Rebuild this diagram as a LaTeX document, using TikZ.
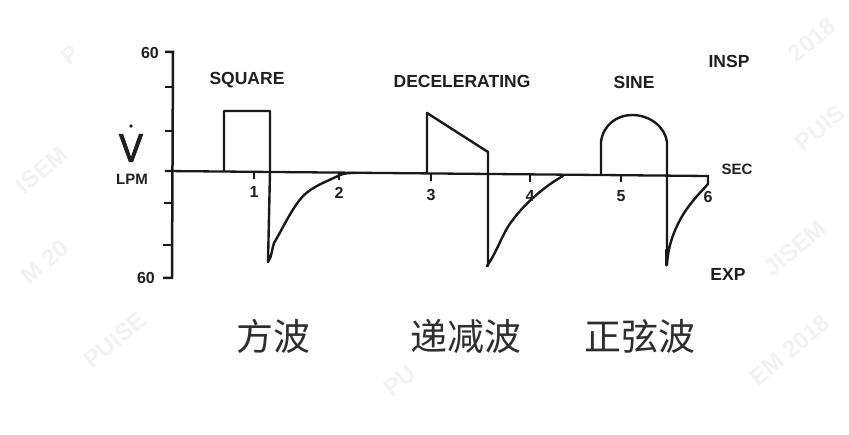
\documentclass[tikz,border=0pt]{standalone}
\usepackage{fontspec}
\setmainfont{Liberation Sans}
\newfontfamily\cjk{Noto Sans CJK SC}
\usetikzlibrary{calc}
\tikzset{
  wave/.style={line width=2.4pt,black!90,line join=round,line cap=round},
  axisln/.style={line width=2.5pt,black!90,line cap=butt},
  lab/.style={font=\fontsize{17.5}{18}\selectfont\bfseries,inner sep=0pt,text=black!88},
  numlab/.style={font=\fontsize{16}{18}\selectfont\bfseries,inner sep=0pt,text=black!88},
  smalllab/.style={font=\fontsize{15}{16}\selectfont\bfseries,inner sep=0pt,text=black!88},
  cn/.style={font=\fontsize{37}{39}\cjk,inner sep=0pt,text=black!82},
  wm/.style={font=\fontsize{24}{26}\selectfont\bfseries,inner sep=0pt,text=black!5,rotate=40}
}
\begin{document}
\begin{tikzpicture}[x=1pt,y=-1pt]
\useasboundingbox (0,0) rectangle (849,435);
% watermarks
\node[wm] (w1) at (70,55) {P};
\node[wm] (w2) at (42,170) {ISEM};
\node[wm] (w3) at (45,262) {M 20};
\node[wm] (w4) at (115,340) {PUISE};
\node[wm] (w5) at (400,381) {PU};
\node[wm] (w6) at (812,40) {2018};
\node[wm] (w7) at (820,128) {PUIS};
\node[wm] (w8) at (795,248) {JISEM};
\node[wm] (w9) at (790,350) {EM 2018};
% axes
\coordinate (top) at (173,52);
\coordinate (bot) at (172,278);
\draw[axisln] (165,52) -- (top) -- (bot) -- (163,278);
\foreach \yy/\xa in {87/165,131/165,203/164,245/163}
  \draw[axisln,line width=2pt] (\xa,\yy) -- (173,\yy);
\coordinate (o) at (165,171);
\coordinate (e) at (708,176);
\draw[axisln,line width=2.3pt] (o) -- (e) -- (708,184);
\foreach \xx/\yy in {254/172,339/173,431/174,530/175,621/175}
  \draw[axisln,line width=2pt] (\xx,\yy) -- (\xx,\yy+7);
% square
\draw[wave] (224,171) -- (224,111) -- (270,111) -- (270,172) -- (268,262)
  .. controls (272,257) and (272,248) .. (274,243)
  .. controls (283,228) and (292,208) .. (303,196)
  .. controls (313,186) and (328,181) .. (340,175)
  .. controls (345,173) and (349,173) .. (356,173);
% decelerating
\draw[wave] (427,173) -- (427,113) -- (488,152) -- (488,266) -- (487,266)
  .. controls (497,252) and (503,232) .. (512,221)
  .. controls (525,203) and (545,186) .. (563,176);
% sine
\draw[wave] (601,175) -- (601,142)
  .. controls (603,125) and (617,115) .. (632,115)
  .. controls (650,115) and (665,127) .. (667,142)
  -- (667,265)
  .. controls (668,246) and (674,231) .. (680,220)
  .. controls (688,205) and (698,195) .. (708,184);
\draw[wave,line width=3.2pt] (666.5,250) -- (666.5,265);
% labels
\node[numlab] (n60a) at (150,53) {60};
\node[numlab] (n60b) at (146,278) {60};
\node[lab] (sq) at (247,80) {SQUARE};
\node[lab] (de) at (462,81) {DECELERATING};
\node[lab] (si) at (634,82) {SINE};
\node[lab] (in) at (729,61) {INSP};
\node[lab] (ex) at (728,274) {EXP};
\node[smalllab] (se) at (737,169) {SEC};
\node[smalllab] (lp) at (132,179) {LPM};
\node[font=\fontsize{40}{40}\selectfont,inner sep=0pt,text=black!88,draw=none,xscale=.9,
  preaction={}] (v) at (131,148) {\special{pdf:literal direct 2 Tr 0.9 w}V\special{pdf:literal direct 0 Tr}};
\fill[black!88] (131,126) circle (1.9);
\node[numlab] (t1) at (254,192) {1};
\node[numlab] (t2) at (339,193) {2};
\node[numlab] (t3) at (431,195) {3};
\node[numlab] (t4) at (530,196) {4};
\node[numlab] (t5) at (621,196) {5};
\node[numlab] (t6) at (708,197) {6};
\node[cn] (c1) at (273,336) {方波};
\node[cn] (c2) at (466,336) {递减波};
\node[cn] (c3) at (640,336) {正弦波};
\end{tikzpicture}
\end{document}
